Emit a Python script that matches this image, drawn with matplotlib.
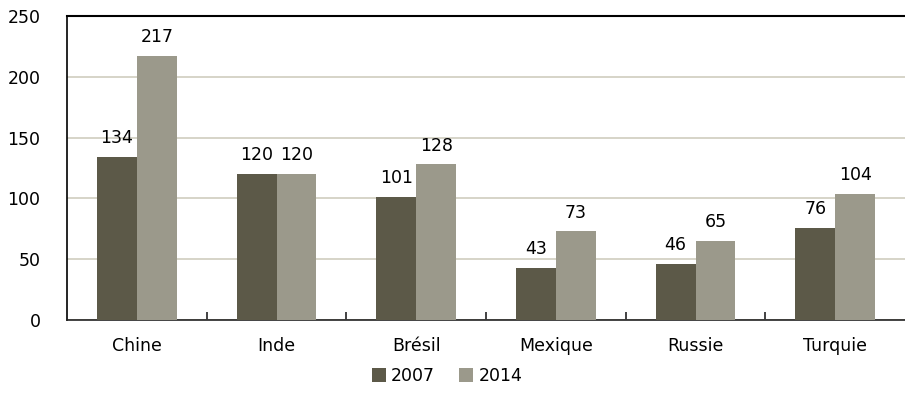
import numpy as np
import matplotlib.pyplot as plt
from matplotlib.ticker import FixedLocator

plt.rcParams['font.family'] = ['DejaVu Sans Condensed', 'DejaVu Sans']

categories = ['Chine', 'Inde', 'Brésil', 'Mexique', 'Russie', 'Turquie']
values_2007 = [134, 120, 101, 43, 46, 76]
values_2014 = [217, 120, 128, 73, 65, 104]
series_labels = ['2007', '2014']

col_2007 = '#5c5948'
col_2014 = '#9b998b'
grid_col = '#cfcdbf'

fig = plt.figure(figsize=(9.05, 4.09), dpi=100)
ax = fig.add_axes([67 / 905, 1 - 320 / 409, 838 / 905, 304 / 409])

x = np.arange(len(categories))
w = 0.286
b1 = ax.bar(x - w / 2, values_2007, w, color=col_2007, label=series_labels[0], zorder=3)
b2 = ax.bar(x + w / 2, values_2014, w, color=col_2014, label=series_labels[1], zorder=3)

for bars in (b1, b2):
    for rect in bars:
        h = rect.get_height()
        ax.annotate(f'{h:.0f}', (rect.get_x() + rect.get_width() / 2, h),
                    xytext=(0, 7), textcoords='offset points',
                    ha='center', va='bottom', fontsize=12.5)

ax.set_xlim(-0.5, len(categories) - 0.5)
ax.set_ylim(0, 250)
ax.set_yticks(range(0, 251, 50))
ax.set_xticks(x)
ax.set_xticklabels(categories)
ax.xaxis.set_minor_locator(FixedLocator(np.arange(0.5, len(categories) - 0.5, 1)))
ax.tick_params(axis='x', which='major', length=0, pad=12, labelsize=12.5)
ax.tick_params(axis='x', which='minor', direction='in', length=6, width=1.2, color='#222222')
ax.tick_params(axis='y', length=0, pad=19, labelsize=12.5)

ax.yaxis.grid(True, color=grid_col, lw=1.2, zorder=0)
ax.set_axisbelow(True)
ax.spines['right'].set_visible(False)
ax.spines['top'].set_linewidth(1.5)
ax.spines['left'].set_linewidth(1.2)
ax.spines['bottom'].set_linewidth(1.2)
ax.spines['bottom'].set_color('#222222')

fig.legend(handles=[b1, b2], labels=series_labels, loc='center',
           bbox_to_anchor=(447 / 905, 1 - 376 / 409), ncol=2, frameon=False,
           fontsize=12.5, handlelength=0.8, handleheight=0.8, handletextpad=0.3,
           columnspacing=1.4)

fig.savefig('out.png', dpi=100)
